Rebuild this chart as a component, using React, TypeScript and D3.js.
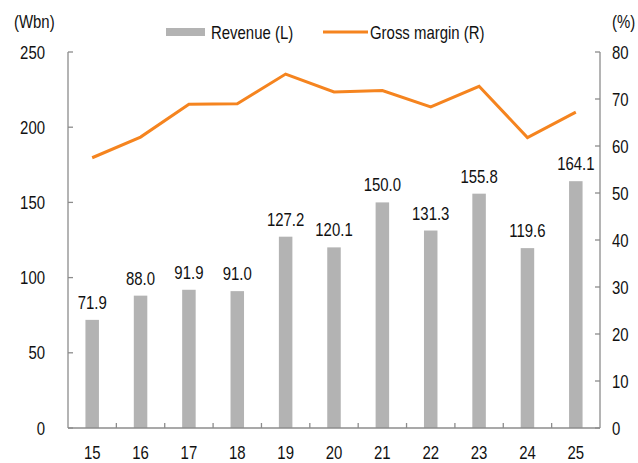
import React from "react";
import * as d3 from "d3";

const categories = ["15", "16", "17", "18", "19", "20", "21", "22", "23", "24", "25"];
const revenue = [71.9, 88.0, 91.9, 91.0, 127.2, 120.1, 150.0, 131.3, 155.8, 119.6, 164.1];
const grossMargin = [57.5, 61.9, 68.9, 69.0, 75.3, 71.5, 71.8, 68.3, 72.7, 61.8, 67.2];
const leftTicks = [0, 50, 100, 150, 200, 250];
const rightTicks = [0, 10, 20, 30, 40, 50, 60, 70, 80];

const W = 638, H = 463;
const M = { left: 68, right: 600, top: 52, bottom: 428 };
const FONT = "'Liberation Sans', Arial, sans-serif";
const FS = 18;
const SX = 0.83;
const AXIS = "#8c8c8c";
const BAR = "#b3b3b3";
const LINE = "#f5841f";

function T({ x, y, anchor = "start", children }: { x: number; y: number; anchor?: string; children: any }) {
  return (
    <text transform={`translate(${x},${y}) scale(${SX},1)`} textAnchor={anchor} fontSize={FS} fill="#111">
      {children}
    </text>
  );
}

export default function App() {
  const x = d3.scaleBand<string>().domain(categories).range([M.left, M.right]).padding(0);
  const yL = d3.scaleLinear().domain([0, 250]).range([M.bottom, M.top]);
  const yR = d3.scaleLinear().domain([0, 80]).range([M.bottom, M.top]);
  const bw = 13.5;
  const cx = (c: string) => (x(c) as number) + x.bandwidth() / 2;
  const line = d3
    .line<number>()
    .x((_, i) => cx(categories[i]))
    .y((d) => yR(d));

  return (
    <svg width={W} height={H} style={{ position: "absolute", left: 0, top: 0 }} fontFamily={FONT}>
      <rect width={W} height={H} fill="#fff" />
      {categories.map((c, i) => (
        <rect key={c} x={cx(c) - bw / 2} y={yL(revenue[i])} width={bw} height={M.bottom - yL(revenue[i])} fill={BAR} />
      ))}
      {categories.map((c, i) => (
        <T key={"l" + c} x={cx(c)} y={yL(revenue[i]) - 11} anchor="middle">
          {revenue[i].toFixed(1)}
        </T>
      ))}
      <path d={line(grossMargin) || ""} fill="none" stroke={LINE} strokeWidth={3} strokeLinejoin="miter" />
      <line x1={M.left} x2={M.left} y1={M.top} y2={M.bottom} stroke={AXIS} strokeWidth={1.3} />
      <line x1={M.right} x2={M.right} y1={M.top} y2={M.bottom} stroke={AXIS} strokeWidth={1.3} />
      <line x1={M.left} x2={M.right} y1={M.bottom} y2={M.bottom} stroke={AXIS} strokeWidth={1.3} />
      {leftTicks.map((t) => (
        <g key={"lt" + t}>
          <line x1={M.left} x2={M.left + 5} y1={yL(t)} y2={yL(t)} stroke={AXIS} strokeWidth={1.3} />
          <T x={45} y={yL(t) + 6.5} anchor="end">
            {t}
          </T>
        </g>
      ))}
      {rightTicks.map((t) => (
        <g key={"rt" + t}>
          <line x1={M.right - 5} x2={M.right} y1={yR(t)} y2={yR(t)} stroke={AXIS} strokeWidth={1.3} />
          <T x={612} y={yR(t) + 6.5}>
            {t}
          </T>
        </g>
      ))}
      {categories.slice(1).map((c) => (
        <line key={"xt" + c} x1={x(c) as number} x2={x(c) as number} y1={M.bottom} y2={M.bottom - 5} stroke={AXIS} strokeWidth={1.3} />
      ))}
      {categories.map((c) => (
        <T key={"xl" + c} x={cx(c)} y={459} anchor="middle">
          {c}
        </T>
      ))}
      <T x={14} y={28}>(Wbn)</T>
      <T x={612} y={28}>(%)</T>
      <rect x={166} y={28} width={39} height={8} fill={BAR} />
      <T x={211} y={39}>Revenue (L)</T>
      <line x1={323} x2={368} y1={32} y2={32} stroke={LINE} strokeWidth={3} />
      <T x={370} y={39}>Gross margin (R)</T>
    </svg>
  );
}
